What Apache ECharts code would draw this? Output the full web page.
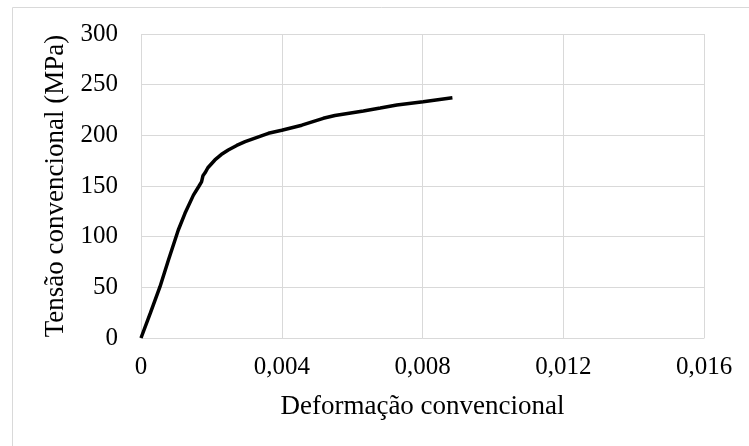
<!DOCTYPE html>
<html><head><meta charset="utf-8">
<script src="https://cdn.jsdelivr.net/npm/echarts@6/dist/echarts.min.js"></script>
<style>html,body{margin:0;padding:0;background:#fff}#c{width:749px;height:446px}</style>
</head><body><div id="c"></div>
<script>
const strain = [0, 0.00027, 0.00054, 0.00078, 0.00106, 0.00125, 0.00149, 0.00165, 0.00172, 0.00176, 0.00182, 0.0019, 0.0021, 0.00228, 0.00248, 0.00272, 0.00296, 0.0033, 0.00362, 0.004, 0.00457, 0.00518, 0.00551, 0.00632, 0.0068, 0.00727, 0.00802, 0.00885];
const stress = [0, 25, 50.6, 77, 106.6, 123, 141, 150, 154, 160, 163, 168, 175.7, 181, 185.5, 190, 193.7, 198, 202, 205, 210, 216.8, 219.5, 224, 227, 230, 233.2, 237];
const xTicks = ['0', '0,004', '0,008', '0,012', '0,016'];
const yTicks = [0, 50, 100, 150, 200, 250, 300];

const chart = echarts.init(document.getElementById('c'));
const font = 'Liberation Serif';
chart.setOption({
  animation: false,
  graphic: [{type: 'rect', shape: {x: 12.5, y: 7.5, width: 800, height: 500}, style: {fill: 'none', stroke: '#d9d9d9', lineWidth: 1}}],
  grid: {left: 141, top: 34, right: 45, bottom: 108},
  xAxis: {
    type: 'value', min: 0, max: 0.016, interval: 0.004,
    name: 'Deformação convencional', nameLocation: 'middle', nameGap: 55,
    nameTextStyle: {fontFamily: font, fontSize: 27, color: '#000'},
    axisLine: {show: true, lineStyle: {color: '#d9d9d9'}},
    axisTick: {show: false},
    axisLabel: {fontFamily: font, fontSize: 25, color: '#000', margin: 17,
      formatter: v => xTicks[Math.round(v / 0.004)]},
    splitLine: {show: true, lineStyle: {color: '#d9d9d9'}}
  },
  yAxis: {
    type: 'value', min: 0, max: 300, interval: 50,
    name: 'Tensão convencional (MPa)', nameLocation: 'middle', nameGap: 68,
    nameTextStyle: {fontFamily: font, fontSize: 27, color: '#000'},
    axisLine: {show: false},
    axisTick: {show: false},
    axisLabel: {fontFamily: font, fontSize: 25, color: '#000', margin: 23,
      formatter: v => String(yTicks[Math.round(v / 50)])},
    splitLine: {show: true, lineStyle: {color: '#d9d9d9'}}
  },
  series: [{
    type: 'line', data: strain.map((x, i) => [x, stress[i]]),
    showSymbol: false,
    lineStyle: {color: '#000', width: 3.5}
  }]
});
</script></body></html>
